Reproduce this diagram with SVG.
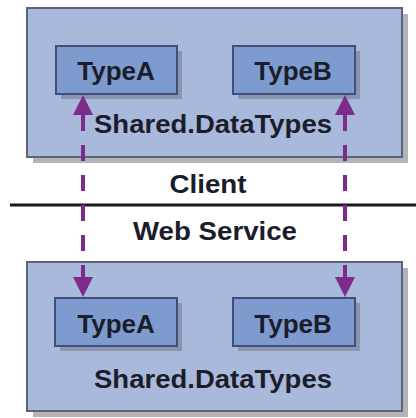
<svg xmlns="http://www.w3.org/2000/svg" width="416" height="418" viewBox="0 0 416 418">
<defs>
<style>
.outer{fill:#a9b9dc;stroke:#5b6478;stroke-width:2}
.oshadow{fill:#b4b4b8}
.inner{fill:#7e9bd0;stroke:#3f4f78;stroke-width:2}
.ishadow{fill:#8a94ae}
.lbl{font-family:"Liberation Sans",Arial,sans-serif;font-weight:bold;font-size:26px;fill:#1b1e2a;text-anchor:middle}
.conn{fill:none;stroke:#7d2c8c;stroke-width:4;stroke-dasharray:16 14}
</style>
<marker id="ah" viewBox="0 0 20 20" refX="0" refY="10" markerWidth="20" markerHeight="20" markerUnits="userSpaceOnUse" orient="auto-start-reverse">
<path d="M0,0 L20,10 L0,20 z" fill="#7d2c8c"/>
</marker>
</defs>
<rect width="416" height="418" fill="#ffffff"/>

<g id="client-package">
<rect class="oshadow" x="33" y="14" width="375" height="149"/>
<rect class="outer" x="27" y="8" width="375" height="149"/>
<text class="lbl" x="213" y="133" textLength="238" lengthAdjust="spacingAndGlyphs">Shared.DataTypes</text>
</g>
<g id="client-typeA">
<rect class="ishadow" x="61" y="51" width="121" height="48"/>
<rect class="inner" x="56" y="46" width="121" height="48"/>
<text class="lbl" x="116" y="80">TypeA</text>
</g>
<g id="client-typeB">
<rect class="ishadow" x="238" y="51" width="122" height="48"/>
<rect class="inner" x="233" y="46" width="122" height="48"/>
<text class="lbl" x="293" y="80">TypeB</text>
</g>

<g id="boundary">
<line x1="10" y1="205" x2="416" y2="205" stroke="#1a1a1a" stroke-width="3"/>
<text class="lbl" x="208" y="193" textLength="77" lengthAdjust="spacingAndGlyphs">Client</text>
<text class="lbl" x="215" y="240" textLength="164" lengthAdjust="spacingAndGlyphs">Web Service</text>
</g>

<g id="service-package">
<rect class="oshadow" x="33" y="268" width="375" height="149"/>
<rect class="outer" x="27" y="262" width="375" height="149"/>
<text class="lbl" x="213" y="388" textLength="238" lengthAdjust="spacingAndGlyphs">Shared.DataTypes</text>
</g>
<g id="service-typeA">
<rect class="ishadow" x="60" y="303" width="122" height="48"/>
<rect class="inner" x="55" y="298" width="122" height="48"/>
<text class="lbl" x="116" y="333">TypeA</text>
</g>
<g id="service-typeB">
<rect class="ishadow" x="238" y="303" width="122" height="48"/>
<rect class="inner" x="233" y="298" width="122" height="48"/>
<text class="lbl" x="293" y="333">TypeB</text>
</g>

<g id="connectors">
<path class="conn" d="M83,115 L83,277" marker-start="url(#ah)" marker-end="url(#ah)"/>
<path class="conn" d="M345,115 L345,277" marker-start="url(#ah)" marker-end="url(#ah)"/>
</g>
</svg>
